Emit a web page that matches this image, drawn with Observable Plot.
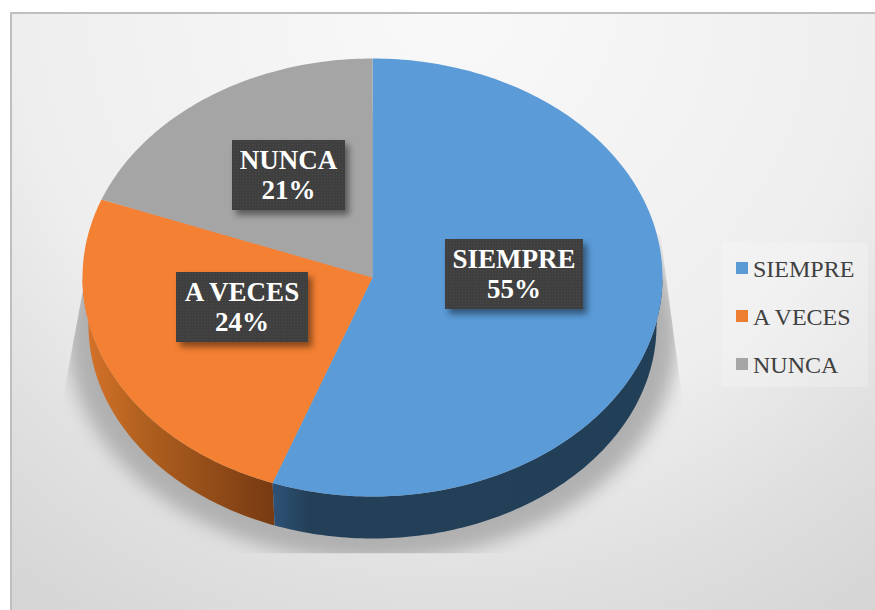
<!DOCTYPE html>
<html><head><meta charset="utf-8">
<script src="https://cdn.jsdelivr.net/npm/d3@7"></script>
<script src="https://cdn.jsdelivr.net/npm/@observablehq/plot@0.6"></script>
<style>
html,body{margin:0;padding:0;background:#fff;overflow:hidden}
#chart{position:absolute;left:0;top:0;width:875px;height:610px}
svg{display:block}
</style></head><body><div id="chart"></div>
<script>
// values
const categories = ["SIEMPRE", "A VECES", "NUNCA"];
const percents = [55, 24, 21];
// slice shares as the 3-D view foreshortens them in the picture
const drawnShares = [55.6, 25.2, 19.2];
const colors = ["#5b9bd5", "#ed7d31", "#a5a5a5"];
const faceColors = ["#5b9bd8", "#f48133", "#a5a5a5"];

// layout
const W = 875, H = 610;
const top3d = {cx: 372, cy: 277, rx: 290, ry: 219};
const low3d = {cx: 372, cy: 325, rx: 284, ry: 213};
const shade = {cx: 372, cy: 335, rx: 305, ry: 225};
const boxes = [
  {x1: 445, x2: 583, y1: 239, y2: 309},
  {x1: 176, x2: 308, y1: 272, y2: 342},
  {x1: 232, x2: 345, y1: 140, y2: 210}
];
const legendBaselines = [276, 324, 372];

const ends = d3.cumsum(drawnShares).map(v => v * 3.6);
const starts = [0, ...ends.slice(0, -1)];
const rad = d => d * Math.PI / 180;
const onEllipse = (e, deg) => ({x: e.cx + e.rx * Math.sin(rad(deg)), y: e.cy - e.ry * Math.cos(rad(deg))});
const arc = (e, a, b) => {
  const n = Math.max(2, Math.ceil(Math.abs(b - a)));
  return d3.range(n + 1).map(i => onEllipse(e, a + (b - a) * i / n));
};

const faces = categories.flatMap((c, i) => [
  {x: top3d.cx, y: top3d.cy, c},
  ...arc(top3d, starts[i], ends[i]).map(p => ({...p, c}))
]);
const wallOf = (a, b, id) => [...arc(top3d, a, b), ...arc(low3d, b, a)].map(p => ({...p, id}));
const walls = [...wallOf(90, ends[0], "blue"), ...wallOf(ends[0], 270, "orange")];
const shadow = arc(shade, 0, 360);

const rows = categories.map((c, i) => ({c, p: percents[i], ...boxes[i],
  mx: (boxes[i].x1 + boxes[i].x2) / 2, baseline: legendBaselines[i]}));

const defs = () => d3.create("svg:defs").html(`
  <radialGradient id="bg" gradientUnits="userSpaceOnUse" cx="450" cy="0" r="720">
    <stop offset="0" stop-color="#f9f9f9"/><stop offset="0.6" stop-color="#eeeeee"/>
    <stop offset="0.83" stop-color="#dfdfdf"/><stop offset="1" stop-color="#d6d6d6"/></radialGradient>
  <linearGradient id="wall-blue" gradientUnits="userSpaceOnUse" x1="272" x2="660" y1="0" y2="0">
    <stop offset="0" stop-color="#2e5277"/><stop offset="0.09" stop-color="#244059"/>
    <stop offset="1" stop-color="#223f58"/></linearGradient>
  <linearGradient id="wall-orange" gradientUnits="userSpaceOnUse" x1="82" x2="274" y1="0" y2="0">
    <stop offset="0" stop-color="#d87329"/><stop offset="0.3" stop-color="#b2611f"/>
    <stop offset="1" stop-color="#773a12"/></linearGradient>
  <pattern id="dots" width="3" height="3" patternUnits="userSpaceOnUse">
    <rect width="3" height="3" fill="#3f3f3f"/><rect width="1" height="1" fill="#4b4b4b"/></pattern>
  <clipPath id="shadow-clip"><polygon points="100,195 62,400 62,553 682,553 682,400 660,235 372,100"/></clipPath>
`).node();

const withAttrs = attrs => (index, scales, values, dims, ctx, next) => {
  const g = next(index, scales, values, dims, ctx);
  for (const k in attrs) g.setAttribute(k, attrs[k]);
  return g;
};

const chart = Plot.plot({
  width: W, height: H,
  margin: 0,
  x: {domain: [0, W], range: [0, W], axis: null},
  y: {domain: [0, H], range: [0, H], axis: null},
  color: {domain: categories, range: faceColors},
  style: {background: "#fff"},
  marks: [
    defs,
    Plot.rect([{}], {x1: () => 11, x2: () => 900, y1: () => 13, y2: () => 640, fill: "url(#bg)", stroke: "#bfbfbf", strokeWidth: 2}),
    Plot.line(shadow, {x: "x", y: "y", curve: "linear-closed", fill: "#b0b0b0", stroke: "none",
      render: (i, s, v, d, c, n) => {
        const g = n(i, s, v, d, c);
        g.querySelector("path").style.filter = "blur(9px)";
        g.setAttribute("clip-path", "url(#shadow-clip)");
        return g;
      }}),
    Plot.rect(rows.slice(0, 1), {x1: () => 722, x2: () => 868, y1: () => 243, y2: () => 387, fill: "#fff", fillOpacity: 0.22}),
    Plot.line(walls.filter(d => d.id === "orange"), {x: "x", y: "y", curve: "linear-closed", fill: "url(#wall-orange)", stroke: "none"}),
    Plot.line(walls.filter(d => d.id === "blue"), {x: "x", y: "y", curve: "linear-closed", fill: "url(#wall-blue)", stroke: "none"}),
    Plot.line(faces, {x: "x", y: "y", z: "c", curve: "linear-closed", fill: "c", stroke: "none"}),
    Plot.rect(rows, {x1: "x1", x2: "x2", y1: "y1", y2: "y2", fill: "url(#dots)",
      render: withAttrs({style: "filter:drop-shadow(4px 5px 3px rgba(0,0,0,.45))"})}),
    Plot.text(rows, {x: d => d.mx - 0.5, y: d => d.y1 + 20, text: "c", fill: "#fff", fontFamily: "Liberation Serif", fontWeight: "bold", fontSize: 27}),
    Plot.text(rows, {x: d => d.mx - 0.5, y: d => d.y1 + 50, text: d => d.p + "%", fill: "#fff", fontFamily: "Liberation Serif", fontWeight: "bold", fontSize: 27}),
    Plot.rect(rows, {x1: () => 736, x2: () => 748, y1: d => d.baseline - 14, y2: d => d.baseline - 2, fill: (d, i) => colors[i]}),
    Plot.text(rows, {x: () => 752.5, y: "baseline", text: "c", textAnchor: "start", lineAnchor: "bottom", fill: "#404040", fontFamily: "Liberation Serif", fontSize: 24})
  ]
});
document.getElementById("chart").append(chart);
</script></body></html>
